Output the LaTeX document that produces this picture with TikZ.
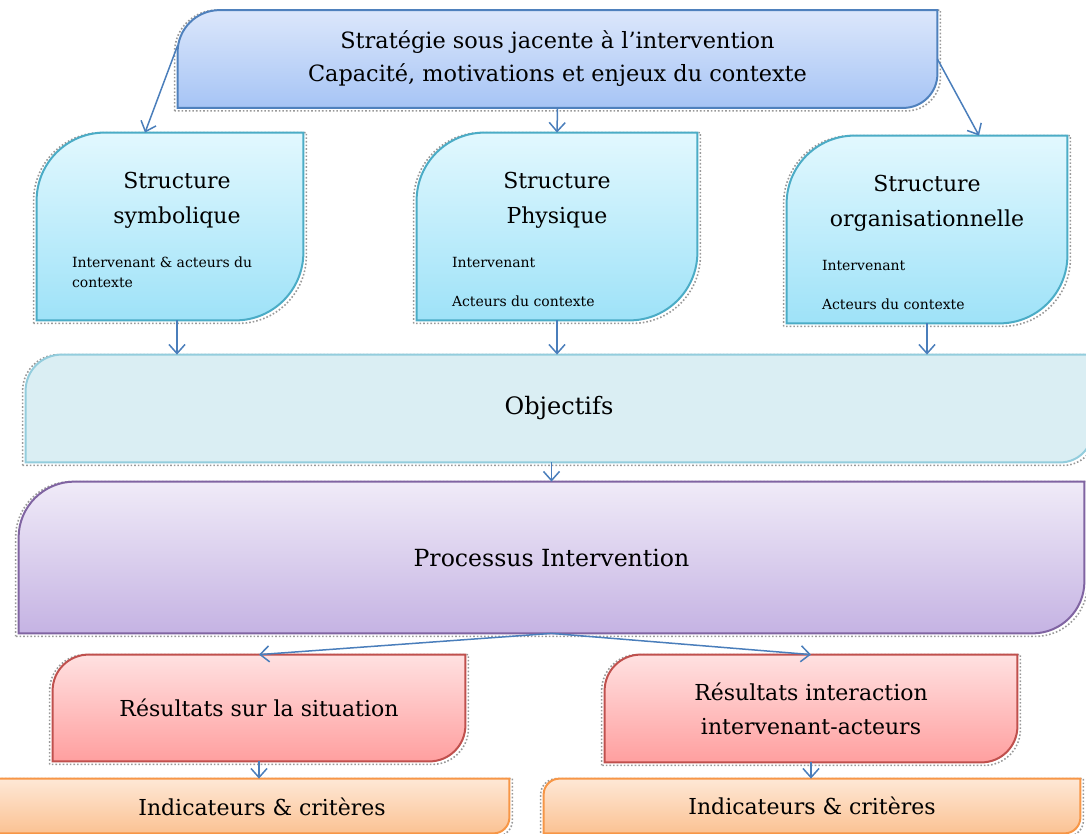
\documentclass[tikz,border=0pt]{standalone}
\usepackage{fontspec}
\setmainfont{DejaVu Serif}
\usetikzlibrary{positioning,backgrounds,arrows.meta}

\definecolor{linkblue}{HTML}{4A7EBB}
\definecolor{stratline}{HTML}{4F81BD}
\definecolor{strattop}{HTML}{DCE7FB}
\definecolor{stratbottom}{HTML}{A6C4F5}
\definecolor{structline}{HTML}{4BACC6}
\definecolor{structtop}{HTML}{E2F8FE}
\definecolor{structbottom}{HTML}{9EE2F8}
\definecolor{objline}{HTML}{93CDDD}
\definecolor{objfill}{HTML}{DAEEF3}
\definecolor{procline}{HTML}{8064A2}
\definecolor{proctop}{HTML}{F0EBF8}
\definecolor{procbottom}{HTML}{C5B3E3}
\definecolor{resline}{HTML}{C0504D}
\definecolor{restop}{HTML}{FFE1E1}
\definecolor{resbottom}{HTML}{FF9F9F}
\definecolor{indline}{HTML}{F79646}
\definecolor{indtop}{HTML}{FEE8D6}
\definecolor{indbottom}{HTML}{FBC293}

\newcommand{\diagshape}[4]{%
  \coordinate (shadow sw) at ([shift={(-1.5pt,-1.5pt)}]#1.south west);
  \coordinate (shadow nw) at ([shift={(-1.5pt,0pt)}]#1.north west);
  \coordinate (shadow ne) at ([shift={(1.5pt,0pt)}]#1.north east);
  \coordinate (shadow se) at ([shift={(1.5pt,-1.5pt)}]#1.south east);
  \path[boxshadow] (shadow sw) -- ([yshift=-#2]shadow nw) arc[start angle=180, end angle=90, radius=#2]
    -- (shadow ne) -- ([yshift=#3]shadow se) arc[start angle=0, end angle=-90, radius=#3] -- cycle;
  \path[#4] (#1.south west) -- ([yshift=-#2]#1.north west) arc[start angle=180, end angle=90, radius=#2]
    -- (#1.north east) -- ([yshift=#3]#1.south east) arc[start angle=0, end angle=-90, radius=#3] -- cycle;
}

\begin{document}
\begin{tikzpicture}[x=0.5pt, y=-0.5pt,
    >={Straight Barb[length=4.5pt,width=8pt]},
    panel/.style={inner sep=0pt, align=center, font=\fontsize{11.2}{16.5}\selectfont},
    title/.style={inner sep=0pt, align=center, font=\fontsize{11}{17.5}\selectfont},
    detail/.style={inner sep=0pt, align=left, font=\fontsize{7}{9.75}\selectfont},
    link/.style={->, draw=linkblue, line width=0.75pt},
    boxshadow/.style={draw=black!40, densely dotted, line width=0.8pt},
    strategy shape/.style={draw=stratline, line width=1pt, top color=strattop, bottom color=stratbottom},
    structure shape/.style={draw=structline, line width=1pt, top color=structtop, bottom color=structbottom},
    objective shape/.style={draw=objline, line width=1pt, fill=objfill},
    process shape/.style={draw=procline, line width=1pt, top color=proctop, bottom color=procbottom},
    result shape/.style={draw=resline, line width=1pt, top color=restop, bottom color=resbottom},
    indicator shape/.style={draw=indline, line width=1pt, top color=indtop, bottom color=indbottom}
]
    \useasboundingbox (0,0) rectangle (1086,834);

    \node[panel, minimum width=379.5pt, minimum height=48.5pt] (strategy) at (557.5,59)
        {Stratégie sous jacente à l'intervention\\Capacité, motivations et enjeux du contexte};

    \node[panel, minimum width=133pt, minimum height=93.5pt] (symbolic) at (170,226.5) {};
    \node[panel, minimum width=140pt, minimum height=93.5pt] (physical) at (557,226.5) {};
    \node[panel, minimum width=140pt, minimum height=93.5pt] (organisational) at (927,229.5) {};

    \node[title, below=19.5pt of symbolic.north, xshift=3.5pt] (symbolic title) {Structure\\symbolique};
    \node[title, below=19.5pt of physical.north] (physical title) {Structure\\Physique};
    \node[title, below=19.5pt of organisational.north] (organisational title) {Structure\\organisationnelle};

    \node[detail, below right=62pt and 17.5pt of symbolic.north west] (symbolic actors)
        {Intervenant \& acteurs du\\contexte};
    \node[detail, below right=62pt and 17.5pt of physical.north west] (physical actors)
        {Intervenant\\[9.75pt]Acteurs du contexte};
    \node[detail, below right=62pt and 17.5pt of organisational.north west] (organisational actors)
        {Intervenant\\[9.75pt]Acteurs du contexte};

    \node[panel, font=\fontsize{12}{17}\selectfont, minimum width=533pt, minimum height=53.5pt] (objectives) at (559,408.5) {Objectifs};

    \node[panel, font=\fontsize{11.8}{17}\selectfont, minimum width=532.5pt, minimum height=75.5pt] (process) at (551.5,557.5) {Processus Intervention};

    \node[panel, font=\fontsize{11}{17}\selectfont, minimum width=206pt, minimum height=53pt] (situation) at (259,708)
        {Résultats sur la situation};
    \node[panel, font=\fontsize{11}{17}\selectfont, minimum width=206pt, minimum height=53.5pt] (interaction) at (811,708.5)
        {Résultats interaction\\intervenant-acteurs};

    \node[panel, minimum width=264.5pt, minimum height=27pt] (situation criteria) at (244.5,806) {};
    \node[panel, font=\fontsize{11}{17}\selectfont] (situation criteria text) at (262,807) {Indicateurs \& critères};
    \node[panel, font=\fontsize{11}{17}\selectfont, minimum width=268pt, minimum height=27pt] (interaction criteria) at (812,806)
        {Indicateurs \& critères};

    \begin{scope}[on background layer]
        \diagshape{strategy}{21pt}{17pt}{strategy shape}
        \diagshape{symbolic}{34pt}{34pt}{structure shape}
        \diagshape{physical}{34pt}{34pt}{structure shape}
        \diagshape{organisational}{34pt}{34pt}{structure shape}
        \diagshape{objectives}{18pt}{16pt}{objective shape}
        \diagshape{process}{28pt}{26pt}{process shape}
        \diagshape{situation}{18pt}{18pt}{result shape}
        \diagshape{interaction}{18pt}{18pt}{result shape}
        \diagshape{situation criteria}{8pt}{8pt}{indicator shape}
        \diagshape{interaction criteria}{8pt}{8pt}{indicator shape}
    \end{scope}

    \draw[link] ([yshift=6.75pt]strategy.west) -- ([xshift=-12.5pt]symbolic.north);
    \draw[link] (strategy.south) -- (physical.north);
    \draw[link] (strategy.east) -- ([xshift=26pt]organisational.north);

    \draw[link] ([xshift=3.5pt]symbolic.south) -- ([xshift=3.5pt]symbolic.south |- objectives.north);
    \draw[link] (physical.south) -- (physical.south |- objectives.north);
    \draw[link] (organisational.south) -- (organisational.south |- objectives.north);

    \draw[link] (process.north |- objectives.south) -- (process.north);

    \draw[link] (process.south) -- (situation.north);
    \draw[link] (process.south) -- (interaction.north);

    \draw[link] (situation.south) -- (situation.south |- situation criteria.north);
    \draw[link] (interaction.south) -- (interaction.south |- interaction criteria.north);
\end{tikzpicture}
\end{document}
